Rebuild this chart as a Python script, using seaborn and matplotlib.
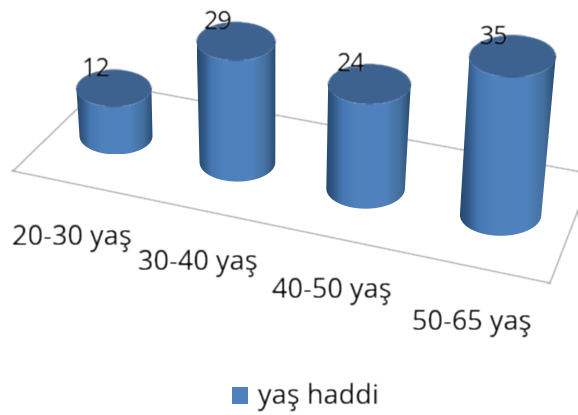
import numpy as np
import matplotlib
matplotlib.use("Agg")
import matplotlib.pyplot as plt
import seaborn as sns
from matplotlib.colors import LinearSegmentedColormap
from matplotlib.patches import Ellipse, PathPatch, Rectangle
from matplotlib.path import Path

# Data
categories = ["20-30 yaş", "30-40 yaş", "40-50 yaş", "50-65 yaş"]
values = [12, 29, 24, 35]
series_name = "yaş haddi"

# Colours
body_cmap = LinearSegmentedColormap.from_list(
    "body", [(0, "#274a73"), (0.07, "#305682"), (0.18, "#4677b2"), (0.35, "#4f81bd"),
             (0.7, "#5082bf"), (0.88, "#44709f"), (1, "#2b4c74")])
top_color = "#3e6290"
floor_color = "#a6a6a6"

sns.set_theme(style="white")
plt.rcParams["font.family"] = ["Open Sans", "DejaVu Sans"]


# the reference is a soft, upscaled picture, so soften marks and text a bit
def soften(img, dpi):
    pad = 3
    out = np.pad(img, ((pad, pad), (pad, pad), (0, 0)))
    kernel = np.array([0.22, 0.56, 0.22])
    for axis in (0, 1):
        out = np.apply_along_axis(lambda c: np.convolve(c, kernel, mode="same"), axis, out)
    return out, -pad, -pad


fig = plt.figure(figsize=(5.78, 4.15), dpi=100)

# seaborn makes the bars in category/value space, they get projected to the canvas below
data_ax = fig.add_axes([0, 0, 1, 1])
sns.barplot(x=list(range(len(categories))), y=values, ax=data_ax, orient="x", alpha=0)
data_ax.axis("off")

# canvas in pixel units
ax = fig.add_axes([0, 0, 1, 1], facecolor="none")
ax.set_xlim(0, 578)
ax.set_ylim(415, 0)
ax.axis("off")

# floor of the 3d box
floor_x = [13, 550, 592, 104, 13]
floor_y = [171, 283, 174, 83, 171]
ax.plot(floor_x, floor_y, color=floor_color, lw=1.1, zorder=1, agg_filter=soften)


def cylinder(d, v):
    base_x = 116 + 118 * d + 3.4 * d ** 2
    base_y = 136 + 26.3 * d
    h = v * (4 + 0.18 * d)
    top_x = base_x + 0.2 * v * (d - 1.5) + 1.5
    top_y = base_y - h
    rx_top = 37.5 + 1.9 * d
    rx_base = 36.5 + 1.4 * d
    ry = 18.5 + 0.8 * d

    # body outline: down the left side, round the bottom, up the right side
    t = np.linspace(np.pi, 0, 40)
    xs = np.r_[top_x - rx_top, base_x + rx_base * np.cos(t), top_x + rx_top]
    ys = np.r_[top_y, base_y + ry * np.sin(t), top_y]
    clip = PathPatch(Path(np.c_[xs, ys]), transform=ax.transData, fc="none", ec="none")
    ax.add_patch(clip)

    grad = np.linspace(0, 1, 64).reshape(1, -1)
    left = min(top_x - rx_top, base_x - rx_base)
    right = max(top_x + rx_top, base_x + rx_base)
    im = ax.imshow(grad, cmap=body_cmap, aspect="auto", zorder=2,
                   extent=[left, right, base_y + ry, top_y - ry])
    im.set_clip_path(clip)

    ax.add_patch(Ellipse((top_x, top_y), 2 * rx_top, 2 * ry, fc=top_color, ec="none", zorder=3,
                         agg_filter=soften))
    ax.text(top_x - 18, top_y - 19, f"{int(v)}", fontsize=18, color="#000000",
            ha="center", va="center", zorder=4, agg_filter=soften)


for bar in data_ax.patches:
    cylinder(bar.get_x() + bar.get_width() / 2, bar.get_height())
ax.set_xlim(0, 578)
ax.set_ylim(415, 0)

# axis labels
for i, label in enumerate(categories):
    ax.text(12 + 123 * i + 3.5 * i * i, 238 + 23 * i + 1.8 * i * i, label, fontsize=19.5,
            color="#000000", ha="left", va="center", agg_filter=soften)

# legend
ax.add_patch(Rectangle((232, 387), 16, 17, fc="#4f81bd", ec="none"))
ax.text(258, 397, series_name, fontsize=19.5, color="#000000", ha="left", va="center",
        agg_filter=soften)

fig.savefig("out.png", dpi=100)
